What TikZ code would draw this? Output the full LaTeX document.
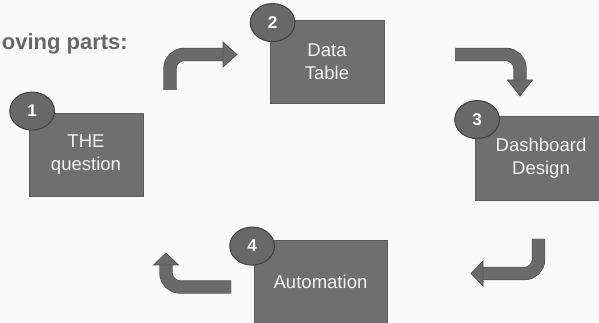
\documentclass[tikz,border=0pt]{standalone}
\usepackage{fontspec}
\setmainfont{Liberation Sans}
\usetikzlibrary{shapes.geometric}
\definecolor{bggray}{HTML}{F9F9F9}
\definecolor{boxgray}{HTML}{6F6F6F}
\definecolor{boxedge}{HTML}{595959}
\definecolor{dotgray}{HTML}{686868}
\definecolor{dotedge}{HTML}{424242}
\definecolor{arrowgray}{HTML}{6A6A6A}
\definecolor{arrowedge}{HTML}{505050}
\definecolor{titlegray}{HTML}{676767}
\tikzset{
  stagebox/.style={draw=boxedge, fill=boxgray, line width=0.6pt, text=white!95!black,
    align=center, inner sep=0pt, font=\fontsize{13.9}{17}\selectfont},
  numdot/.style={ellipse, draw=dotedge, fill=dotgray, line width=0.8pt, text=white,
    inner sep=0pt, minimum width=33.5pt, minimum height=28.5pt,
    font=\bfseries\fontsize{12.8}{14}\selectfont},
  bentshaft/.style={draw=arrowedge, line width=0.5pt, double=arrowgray,
    double distance=9pt, rounded corners=10.5pt},
  bentshead/.style={draw=arrowedge, fill=arrowgray, line width=0.5pt, line join=miter},
}
\begin{document}
\begin{tikzpicture}[x=0.75pt, y=-0.75pt]
  \fill[bggray] (0,0) rectangle (599,323);
  \useasboundingbox (0,0) rectangle (599,323);
  \begin{scope}
    \clip (0,0) rectangle (599,323);
    \node[anchor=base east, text=titlegray, inner sep=0pt,
      font=\bfseries\fontsize{16.5}{18}\selectfont] (title) at (128,50) {oving parts:};
    % stages
    \node[stagebox, minimum width=85.5pt, minimum height=62.25pt] (q1) at (86,154.5) {THE\\question};
    \node[stagebox, minimum width=85.5pt, minimum height=62.25pt] (q2) at (327,61.5) {Data\\Table};
    \node[stagebox, minimum width=99pt, minimum height=63pt] (q3) at (541,158) {Dashboard\\Design};
    \node[stagebox, minimum width=99.75pt, minimum height=63pt] (q4) at (320.5,282) {Automation};
    \node[numdot] (n1) at ([shift={(3.5,-1.5)}]q1.north west) {1};
    \node[numdot] (n2) at ([shift={(3,3)}]q2.north west) {2};
    \node[numdot] (n3) at ([shift={(2.5,4)}]q3.north west) {3};
    \node[numdot] (n4) at ([shift={(-1.5,6.5)}]q4.north west) {4};
    % bent arrows
    \coordinate (a1s) at (170,90);    \coordinate (a1e) at (223,54.5);
    \coordinate (a2s) at (455,54.5);  \coordinate (a2e) at (520,80);
    \coordinate (a3s) at (538.5,239); \coordinate (a3e) at (483,273.5);
    \coordinate (a4s) at (231,287);   \coordinate (a4e) at (166,265);
    \draw[bentshaft] (a1s) |- (a1e);
    \draw[bentshaft] (a2s) -| (a2e);
    \draw[bentshaft] (a3s) |- (a3e);
    \draw[bentshaft] (a4s) -| (a4e);
    \filldraw[bentshead] ([shift={(0,-12.5)}]a1e) -- ([shift={(14,0)}]a1e) -- ([shift={(0,12.5)}]a1e) -- cycle;
    \filldraw[bentshead] ([shift={(-12.5,0)}]a2e) -- ([shift={(0,16)}]a2e) -- ([shift={(12.5,0)}]a2e) -- cycle;
    \filldraw[bentshead] ([shift={(0,-12.5)}]a3e) -- ([shift={(-12,0)}]a3e) -- ([shift={(0,12.5)}]a3e) -- cycle;
    \filldraw[bentshead] ([shift={(-12.5,0)}]a4e) -- ([shift={(0,-12)}]a4e) -- ([shift={(12.5,0)}]a4e) -- cycle;
  \end{scope}
\end{tikzpicture}
\end{document}
